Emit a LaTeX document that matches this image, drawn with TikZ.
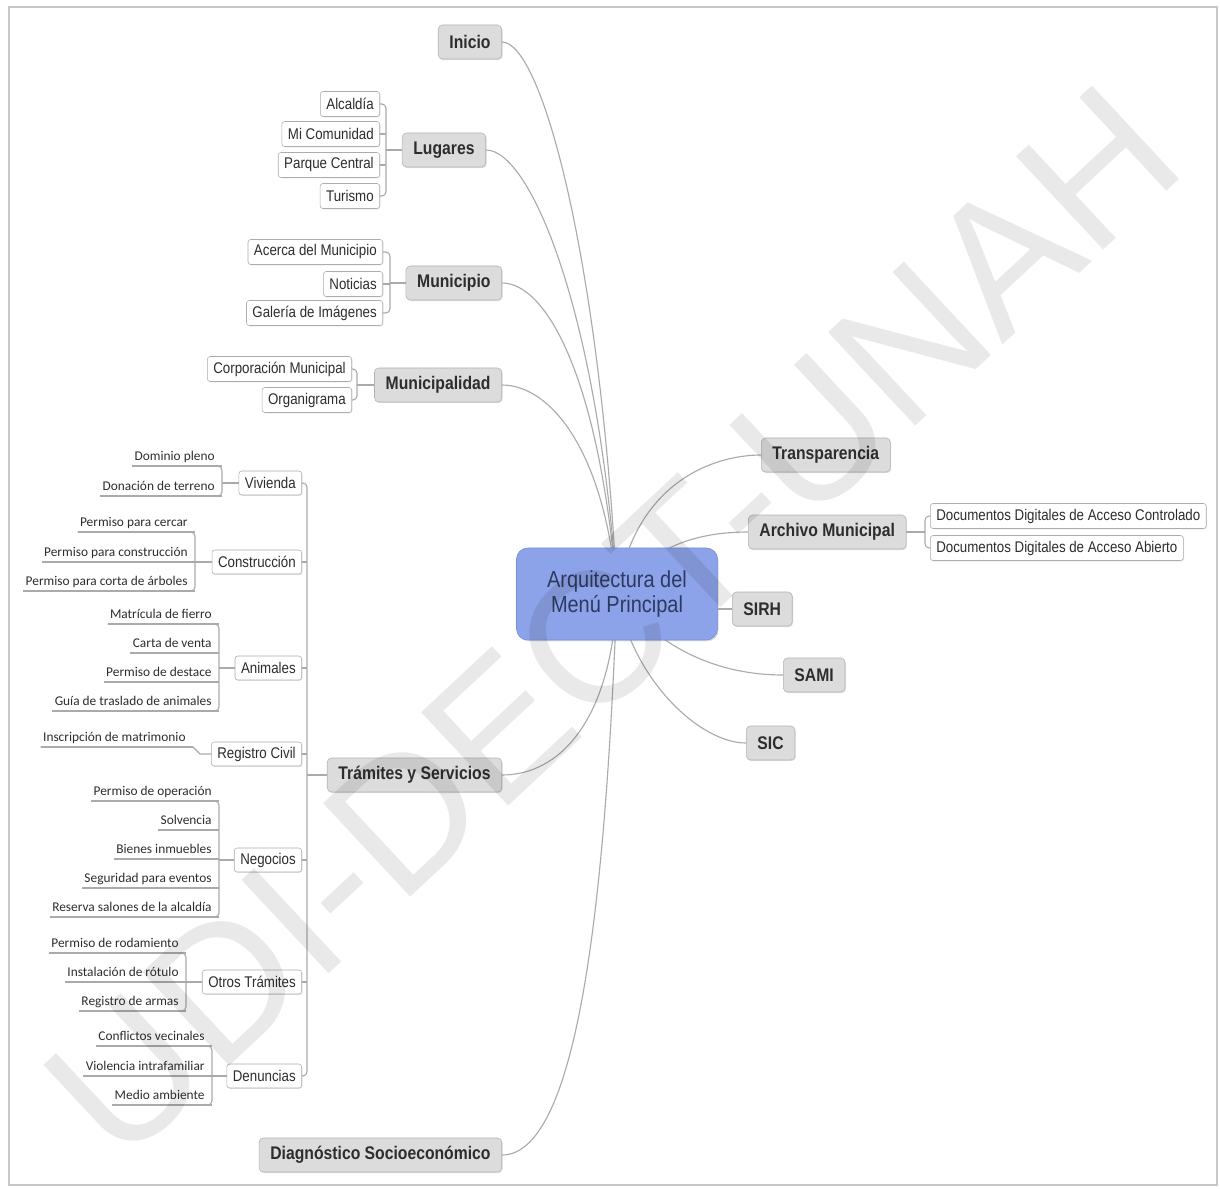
\documentclass[tikz,border=0pt]{standalone}
\usepackage{fontspec}
\setmainfont{Liberation Sans}[FakeStretch=0.86]
\newfontfamily\itemfont{Carlito}
\newfontfamily\markfont{Liberation Sans}
\usetikzlibrary{positioning, calc, shadows, backgrounds}
\definecolor{TopicFill}{RGB}{220,220,220}
\definecolor{TopicLine}{RGB}{178,178,178}
\definecolor{LeafLine}{RGB}{172,172,172}
\definecolor{LinkGray}{RGB}{170,170,170}
\definecolor{TextDark}{RGB}{45,45,45}
\definecolor{CoreFill}{RGB}{141,163,233}
\definecolor{CoreLine}{RGB}{118,140,214}
\definecolor{CoreText}{RGB}{45,58,96}
\definecolor{FrameGray}{RGB}{200,200,200}

\begin{document}
\begin{tikzpicture}[x=0.025cm, y=-0.025cm,
    link/.style={draw=LinkGray, line width=0.8pt},
    topic/.style={draw=TopicLine, fill=TopicFill, rounded corners=3pt, text=TextDark,
      font=\bfseries\fontsize{13}{15}\selectfont, inner xsep=0.28cm, minimum height=0.85cm,
      drop shadow={shadow xshift=0.6pt, shadow yshift=-0.8pt, opacity=0.25}},
    leafbox/.style={draw=LeafLine, fill=white, rounded corners=2pt, text=TextDark,
      font=\fontsize{11}{13}\selectfont, inner xsep=0.15cm, minimum height=0.625cm,
      drop shadow={shadow xshift=0.5pt, shadow yshift=-0.6pt, opacity=0.2}},
    itemtext/.style={anchor=south east, inner xsep=1.5pt, inner ysep=1pt, text=TextDark,
      text height=1.6ex, text depth=0.5ex, font=\itemfont\fontsize{9.5}{11}\selectfont},
    core/.style={draw=CoreLine, fill=CoreFill, rounded corners=8pt, text=CoreText, align=center,
      font=\fontsize{16.5}{17.8}\selectfont, minimum width=5.025cm, minimum height=2.3cm,
      drop shadow={shadow xshift=0.8pt, shadow yshift=-1pt, opacity=0.25}}]
  \useasboundingbox (0,0) rectangle (1220,1188);
  \draw[FrameGray, line width=1pt] (9,7) rectangle (1217,1185);

  % Central topic
  \node[core] (core) at (617,594) {Arquitectura del\\Menú Principal};

  % Main topics
  \node[topic, anchor=east] (inicio) at (502,42) {Inicio};
  \node[topic, anchor=east] (lugares) at (486,150) {Lugares};
  \node[topic, anchor=east] (municipio) at (502,283) {Municipio};
  \node[topic, anchor=east] (municipalidad) at (502,385) {Municipalidad};
  \node[topic, anchor=east] (tramites) at (502,775) {Trámites y Servicios};
  \node[topic, anchor=east] (diagnostico) at (502,1155) {Diagnóstico Socioeconómico};
  \node[topic, anchor=west] (transparencia) at (761,455) {Transparencia};
  \node[topic, anchor=west] (archivo) at (748,532) {Archivo Municipal};
  \node[topic, anchor=west] (sirh) at (732,609) {SIRH};
  \node[topic, anchor=west] (sami) at (783,675) {SAMI};
  \node[topic, anchor=west] (sic) at (746,743) {SIC};

  \begin{scope}[on background layer]
    \foreach \nm/\dx/\cx/\cy in {inicio/40/600/260, lugares/44/598/310, municipio/45/600/380,
        municipalidad/48/605/450, tramites/58/612/720, diagnostico/83/607/850}
      \draw[link] (\nm.east) .. controls +(\dx,0) and (\cx,\cy) .. (core.center);
    \foreach \nm/\dx/\cx/\cy in {transparencia/45/635/480, archivo/48/650/545,
        sami/63/660/650, sic/46/632/680}
      \draw[link] (\nm.west) .. controls +(-\dx,0) and (\cx,\cy) .. (core.center);
  \end{scope}
  \draw[link] (core.east |- sirh.west) -- (sirh.west);

  % Boxed subtopics
  \foreach \nm/\x/\y/\txt in {alc/380/104/Alcaldía, mic/380/134/Mi Comunidad,
      par/380/165/Parque Central, tur/380/196/Turismo, ace/383/252/Acerca del Municipio,
      not/383/284/Noticias, gal/383/313/Galería de Imágenes,
      cor/352/369/Corporación Municipal, org/352/400/Organigrama}
    \node[leafbox, anchor=east] (\nm) at (\x,\y) {\txt};
  \node[leafbox, anchor=west] (dcc) at (930,516) {Documentos Digitales de Acceso Controlado};
  \node[leafbox, anchor=west] (dca) at (930,548) {Documentos Digitales de Acceso Abierto};

  \coordinate (lugares-b) at (386,0);
  \coordinate (municipio-b) at (390,0);
  \coordinate (municipalidad-b) at (357,0);
  \coordinate (archivo-b) at (925,0);
  \foreach \a/\b/\p in {alc/tur/lugares, ace/gal/municipio, cor/org/municipalidad}{
    \draw[link, rounded corners=3pt] (\a.east) -- (\a.east -| \p-b) -- (\b.east -| \p-b) -- (\b.east);
    \draw[link] (\p.west -| \p-b) -- (\p.west);
  }
  \foreach \m/\p in {mic/lugares, par/lugares, not/municipio}
    \draw[link] (\m.east) -- (\m.east -| \p-b);
  \draw[link, rounded corners=3pt] (dcc.west) -- (dcc.west -| archivo-b) -- (dca.west -| archivo-b) -- (dca.west);
  \draw[link] (archivo.east) -- (archivo.east -| archivo-b);

  % Tramites y Servicios
  \foreach \nm/\y/\txt in {viv/483/Vivienda, con/562/Construcción, ani/668/Animales,
      reg/754/Registro Civil, neg/860/Negocios, otr/982/Otros Trámites, den/1076/Denuncias}
    \node[leafbox, anchor=east, minimum height=0.6cm] (\nm) at (302,\y) {\txt};
  \coordinate (tramites-b) at (307,0);
  \draw[link, rounded corners=3pt] (viv.east) -- (viv.east -| tramites-b) -- (den.east -| tramites-b) -- (den.east);
  \foreach \nm in {con, ani, reg, neg, otr}
    \draw[link] (\nm.east) -- (\nm.east -| tramites-b);
  \draw[link] (tramites.west) -- (tramites.west -| tramites-b);

  \foreach \nm/\bx/\y/\txt in {
      viv1/222/466/Dominio pleno, viv2/222/496/Donación de terreno,
      con1/195/532/Permiso para cercar, con2/195/562/Permiso para construcción,
      con3/195/591/Permiso para corta de árboles,
      ani1/219/624/Matrícula de fierro, ani2/219/653/Carta de venta,
      ani3/219/682/Permiso de destace, ani4/219/711/Guía de traslado de animales,
      reg1/193/747/Inscripción de matrimonio,
      neg1/219/801/Permiso de operación, neg2/219/830/Solvencia, neg3/219/859/Bienes inmuebles,
      neg4/219/888/Seguridad para eventos, neg5/219/917/Reserva salones de la alcaldía,
      otr1/186/953/Permiso de rodamiento, otr2/186/982/Instalación de rótulo,
      otr3/186/1011/Registro de armas,
      den1/212/1046/Conflictos vecinales, den2/212/1076/Violencia intrafamiliar,
      den3/212/1105/Medio ambiente}{
    \node[itemtext] (\nm) at ({\bx-5},\y) {\txt};
    \coordinate (\nm-e) at (\bx,\y);
    \draw[link] (\nm.south west) -- (\nm-e);
  }
  \foreach \a/\b/\p in {viv1/viv2/viv, con1/con3/con, ani1/ani4/ani, neg1/neg5/neg,
      otr1/otr3/otr, den1/den3/den}{
    \draw[link, rounded corners=3pt] (\a.south west) -- (\a-e) -- (\b-e) -- (\b.south west);
    \draw[link] (\p.west -| \a-e) -- (\p.west);
  }
  \draw[link] (reg1.south west) -- (reg1-e) -- ++(7,7) -- (reg.west);

  % Watermark
  \node[font=\markfont\fontsize{132}{132}\selectfont, text=black, text opacity=0.085, rotate=43]
    (mark) at (612,622) {UDI-DECT-UNAH};
\end{tikzpicture}
\end{document}
